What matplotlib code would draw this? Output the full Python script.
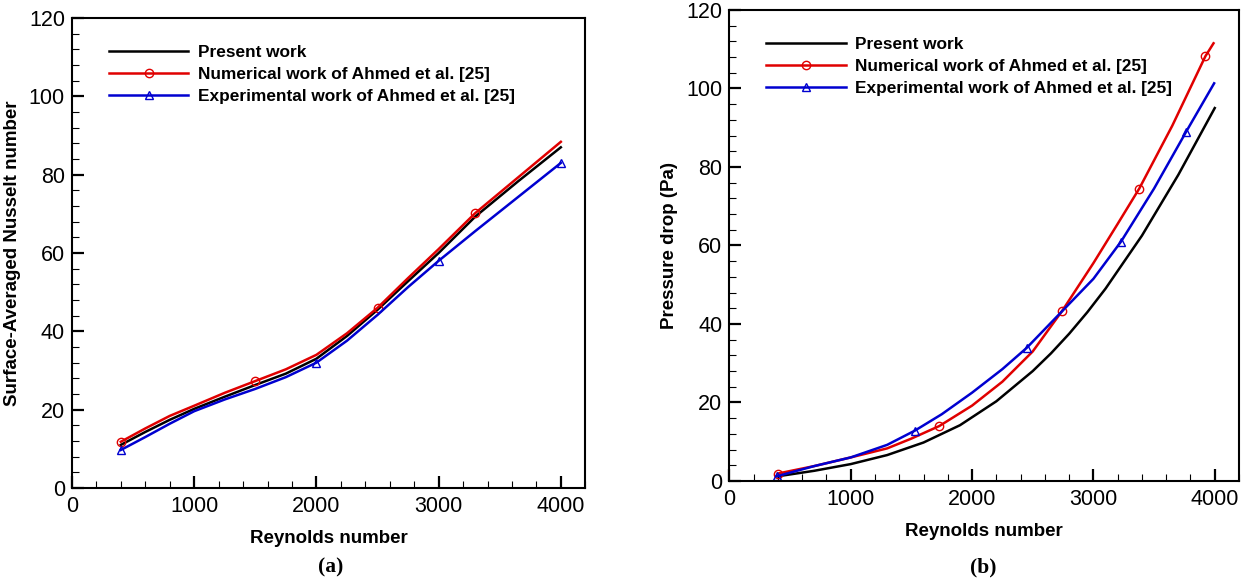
import matplotlib
matplotlib.use('Agg')
import matplotlib.pyplot as plt
from matplotlib.ticker import MultipleLocator

plt.rcParams['font.family'] = ['Liberation Sans', 'DejaVu Sans']

# (a) surface-averaged Nusselt number
re_a = [400, 600, 800, 1000, 1250, 1500, 1750, 2000, 2250, 2500, 2750, 3000, 3300, 3650, 4000]
nu_present = [11.0, 14.3, 17.4, 20.2, 23.3, 26.3, 29.2, 33.0, 38.8, 45.5, 52.8, 60.0, 69.3, 78.3, 87.0]
nu_num = [11.8, 15.2, 18.4, 21.0, 24.3, 27.3, 30.3, 34.0, 39.5, 46.0, 53.6, 61.0, 70.2, 79.3, 88.4]
nu_exp = [9.7, 13.0, 16.4, 19.6, 22.6, 25.3, 28.3, 32.0, 37.6, 44.2, 51.3, 58.0, 65.6, 74.3, 83.0]
mk_num_a = [0, 5, 9, 12]
mk_exp_a = [0, 7, 11, 14]

# (b) pressure drop
re_pres_b = [400, 700, 1000, 1300, 1600, 1900, 2200, 2500, 2650, 2800, 2950, 3100, 3400, 3700, 4000]
dp_present = [1.2, 2.6, 4.3, 6.6, 9.8, 14.2, 20.3, 28.0, 32.5, 37.5, 43.0, 49.0, 62.5, 78.0, 95.0]
re_num_b = [400, 700, 1000, 1300, 1500, 1730, 2000, 2250, 2500, 2744, 3000, 3200, 3378, 3650, 3923, 3990]
dp_num = [1.9, 3.8, 6.0, 8.3, 10.8, 14.0, 19.2, 25.3, 33.0, 43.4, 55.5, 65.5, 74.5, 90.5, 108.2, 111.5]
re_exp_b = [390, 700, 1000, 1300, 1527, 1750, 2000, 2250, 2450, 2750, 3000, 3228, 3500, 3765, 3995]
dp_exp = [1.2, 3.8, 6.0, 9.2, 12.8, 17.0, 22.5, 28.5, 33.9, 43.5, 51.5, 61.0, 74.5, 89.0, 101.3]
mk_num_b = [0, 5, 9, 12, 14]
mk_exp_b = [0, 4, 8, 11, 13]

labels = ['Present work', 'Numerical work of Ahmed et al. [25]',
          'Experimental work of Ahmed et al. [25]']
RED = '#e00000'
BLUE = '#0000d0'

fig = plt.figure(figsize=(12.49, 5.83), dpi=100)
ax1 = fig.add_axes([0.0576, 0.163, 0.411, 0.806])
ax2 = fig.add_axes([0.584, 0.175, 0.408, 0.808])


def style(ax, ylabel):
    ax.set_xlim(0, 4200)
    ax.set_ylim(0, 120)
    ax.xaxis.set_major_locator(MultipleLocator(1000))
    ax.xaxis.set_minor_locator(MultipleLocator(200))
    ax.yaxis.set_major_locator(MultipleLocator(20))
    ax.yaxis.set_minor_locator(MultipleLocator(4))
    ax.tick_params(which='both', direction='in', top=False, right=False, labelsize=15.5)
    ax.tick_params(which='major', length=8.5, width=1.6)
    ax.tick_params(which='minor', length=5, width=0.8)
    ax.tick_params(axis='x', which='major', pad=6)
    ax.tick_params(axis='y', which='major', pad=5)
    for s in ax.spines.values():
        s.set_linewidth(1.5)
    ax.set_xlabel('Reynolds number', fontsize=13.5, fontweight='bold', labelpad=9)
    ax.set_ylabel(ylabel, fontsize=13.5, fontweight='bold', labelpad=6)
    ax.legend(loc='upper left', bbox_to_anchor=(0.042, 0.975), frameon=False,
              handlelength=4.6, numpoints=1, labelspacing=0.4, handletextpad=0.55,
              prop={'weight': 'bold', 'size': 12.4})


ax1.plot(re_a, nu_present, color='black', lw=1.8, label=labels[0])
ax1.plot(re_a, nu_num, color=RED, lw=1.8, marker='o', mfc='none', ms=6,
         markevery=mk_num_a, label=labels[1])
ax1.plot(re_a, nu_exp, color=BLUE, lw=1.8, marker='^', mfc='none', ms=6,
         markevery=mk_exp_a, label=labels[2])
style(ax1, 'Surface-Averaged Nusselt number')

ax2.plot(re_pres_b, dp_present, color='black', lw=1.8, label=labels[0])
ax2.plot(re_num_b, dp_num, color=RED, lw=1.8, marker='o', mfc='none', ms=6,
         markevery=mk_num_b, label=labels[1])
ax2.plot(re_exp_b, dp_exp, color=BLUE, lw=1.8, marker='^', mfc='none', ms=6,
         markevery=mk_exp_b, label=labels[2])
style(ax2, 'Pressure drop (Pa)')

fig.text(0.265, 0.027, '(a)', ha='center', va='center', fontsize=15.5,
         fontweight='bold', family=['Liberation Serif', 'DejaVu Serif'])
fig.text(0.787, 0.027, '(b)', ha='center', va='center', fontsize=15.5,
         fontweight='bold', family=['Liberation Serif', 'DejaVu Serif'])

fig.savefig('out.png', dpi=100)
